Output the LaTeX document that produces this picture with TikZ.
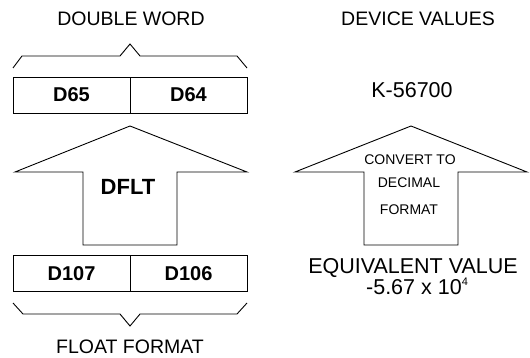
\documentclass[tikz,border=0pt]{standalone}
\usepackage{fontspec}
\setmainfont{Liberation Sans}
\begin{document}
\begin{tikzpicture}[x=1pt,y=-1pt,line width=0.9pt,
    head/.style={font=\fontsize{19.5}{22}\selectfont},
    big/.style={font=\fontsize{21.5}{22}\selectfont,inner sep=0pt},
    reg/.style={draw,minimum width=117pt,minimum height=36pt,inner sep=0pt,
      font=\fontsize{20}{22}\selectfont\bfseries},
    small/.style={font=\fontsize{14}{16}\selectfont}]
  \useasboundingbox (0,0) rectangle (530,358);
  % left column: registers
  \node[head,anchor=base] (dw) at (131,26) {DOUBLE WORD};
  \draw (13,68) -- (22,56) -- (120,56) -- (130,44) -- (140,56) -- (237,56) -- (247,68);
  \node[reg] (d65) at (71.5,95) {D65};
  \node[reg] (d64) at (188.5,95) {D64};
  \draw (130,126) -- (247,172) -- (177,172) -- (177,245) -- (83,245)
    -- (83,172) -- (15,172) -- cycle;
  \node[font=\fontsize{22}{24}\selectfont\bfseries] (dflt) at (128,187) {DFLT};
  \node[reg] (d107) at (71.5,273.5) {D107};
  \node[reg] (d106) at (188.5,273.5) {D106};
  \draw (13,303) -- (23,314) -- (120,314) -- (130,326) -- (140,314) -- (237,314) -- (247,303);
  \node[head,anchor=base] (ff) at (130,353) {FLOAT FORMAT};
  % right column: values
  \node[head,anchor=base] (dv) at (418,26) {DEVICE VALUES};
  \node[big,anchor=base] (kval) at (412,98) {K-56700};
  \draw (411,126) -- (527,172) -- (458,172) -- (458,245) -- (364,245)
    -- (364,172) -- (295,172) -- cycle;
  \node[small] (conv) at (410,160) {CONVERT TO};
  \node[small] (dec) at (409,183) {DECIMAL};
  \node[small] (fmt) at (409,210) {FORMAT};
  \node[big,anchor=base] (eqv) at (413,273) {EQUIVALENT VALUE};
  \node[big,anchor=base] (num) at (417,294)
    {-5.67 x 10\raisebox{0.75ex}{\fontsize{11}{11}\selectfont 4}};
\end{tikzpicture}
\end{document}
